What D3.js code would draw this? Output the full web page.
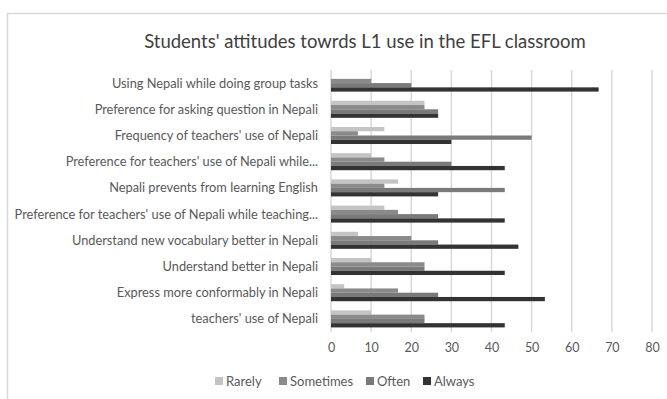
<!DOCTYPE html>
<html>
<head>
<meta charset="utf-8">
<script src="https://cdn.jsdelivr.net/npm/d3@7"></script>
<style>
  html, body { margin: 0; padding: 0; background: #fff; }
  svg { display: block; }
  text { font-family: Lato, "Open Sans", sans-serif; }
</style>
</head>
<body>
<svg id="chart" width="667" height="399"></svg>
<script>
const title = "Students' attitudes towrds L1 use in the EFL classroom";
const categories = [
  "Using Nepali while doing group tasks",
  "Preference for asking question in Nepali",
  "Frequency of teachers' use of Nepali",
  "Preference for teachers' use of Nepali while...",
  "Nepali prevents from learning English",
  "Preference for teachers' use of Nepali while teaching...",
  "Understand new vocabulary better in Nepali",
  "Understand better in Nepali",
  "Express more conformably in Nepali",
  "teachers' use of Nepali"
];
const seriesNames = ["Rarely", "Sometimes", "Often", "Always"];
const rarely    = [0,    23.3, 13.3, 10,   16.7, 13.3, 6.7,  10,   3.3,  10];
const sometimes = [10,   23.3, 6.7,  13.3, 13.3, 16.7, 20,   23.3, 16.7, 23.3];
const often     = [20,   26.7, 50,   30,   43.3, 26.7, 26.7, 23.3, 26.7, 23.3];
const always    = [66.7, 26.7, 30,   43.3, 26.7, 43.3, 46.7, 43.3, 53.3, 43.3];
const xTicks = [0, 10, 20, 30, 40, 50, 60, 70, 80];
const colors = ["#c4c4c4", "#8a8a8a", "#7a7a7a", "#333333"];

const seriesValues = [rarely, sometimes, often, always];
const svg = d3.select("#chart");

// frame
svg.append("rect").attr("x", 7.5).attr("y", 13.5).attr("width", 720).attr("height", 420)
  .attr("fill", "#fff").attr("stroke", "#d9d9d9").attr("stroke-width", 1.5);

// title
svg.append("text").attr("x", 365).attr("y", 48).attr("text-anchor", "middle")
  .attr("font-size", 18.5).attr("fill", "#404040").text(title);

const x = d3.scaleLinear().domain([0, 80]).range([331, 652]);
const y = d3.scaleBand().domain(categories).range([70, 332]).paddingInner(0.35).paddingOuter(0.175);
const ySub = d3.scaleBand().domain(seriesNames).range([0, y.bandwidth()]);

// gridlines
svg.append("g").selectAll("line").data(xTicks).join("line")
  .attr("x1", d => x(d)).attr("x2", d => x(d))
  .attr("y1", 70).attr("y2", 332)
  .attr("stroke", "#d9d9d9").attr("stroke-width", 1.5);

// bars
const groups = svg.append("g").selectAll("g").data(categories).join("g")
  .attr("transform", c => `translate(0,${y(c)})`);
groups.selectAll("rect").data((c, i) => seriesNames.map((s, k) => ({s, v: seriesValues[k][i], k})))
  .join("rect")
  .attr("x", x(0))
  .attr("y", d => ySub(d.s))
  .attr("width", d => x(d.v) - x(0))
  .attr("height", ySub.bandwidth())
  .attr("fill", d => colors[d.k]);

// category labels
svg.append("g").selectAll("text").data(categories).join("text")
  .attr("x", 318).attr("y", c => y(c) + y.bandwidth() / 2)
  .attr("dy", "0.35em").attr("text-anchor", "end")
  .attr("font-size", 12.8).attr("fill", "#595959").text(c => c);

// x axis tick labels
const xAxis = d3.axisBottom(x).tickValues(xTicks).tickSize(0).tickPadding(0);
const gx = svg.append("g").attr("transform", "translate(0,343)").call(xAxis);
gx.select(".domain").remove();
gx.selectAll("text").attr("font-size", 12.5).attr("fill", "#595959")
  .attr("font-family", "Lato, 'Open Sans', sans-serif").attr("dy", "0.71em");

// legend
const legendX = [215, 279, 366, 423];
const lg = svg.append("g").selectAll("g").data(seriesNames).join("g")
  .attr("transform", (d, i) => `translate(${legendX[i]},381)`);
lg.append("rect").attr("x", 0).attr("y", -4).attr("width", 8).attr("height", 8)
  .attr("fill", (d, i) => colors[i]);
lg.append("text").attr("x", 11).attr("y", 0).attr("dy", "0.35em")
  .attr("font-size", 13).attr("fill", "#595959").text(d => d);
</script>
</body>
</html>
